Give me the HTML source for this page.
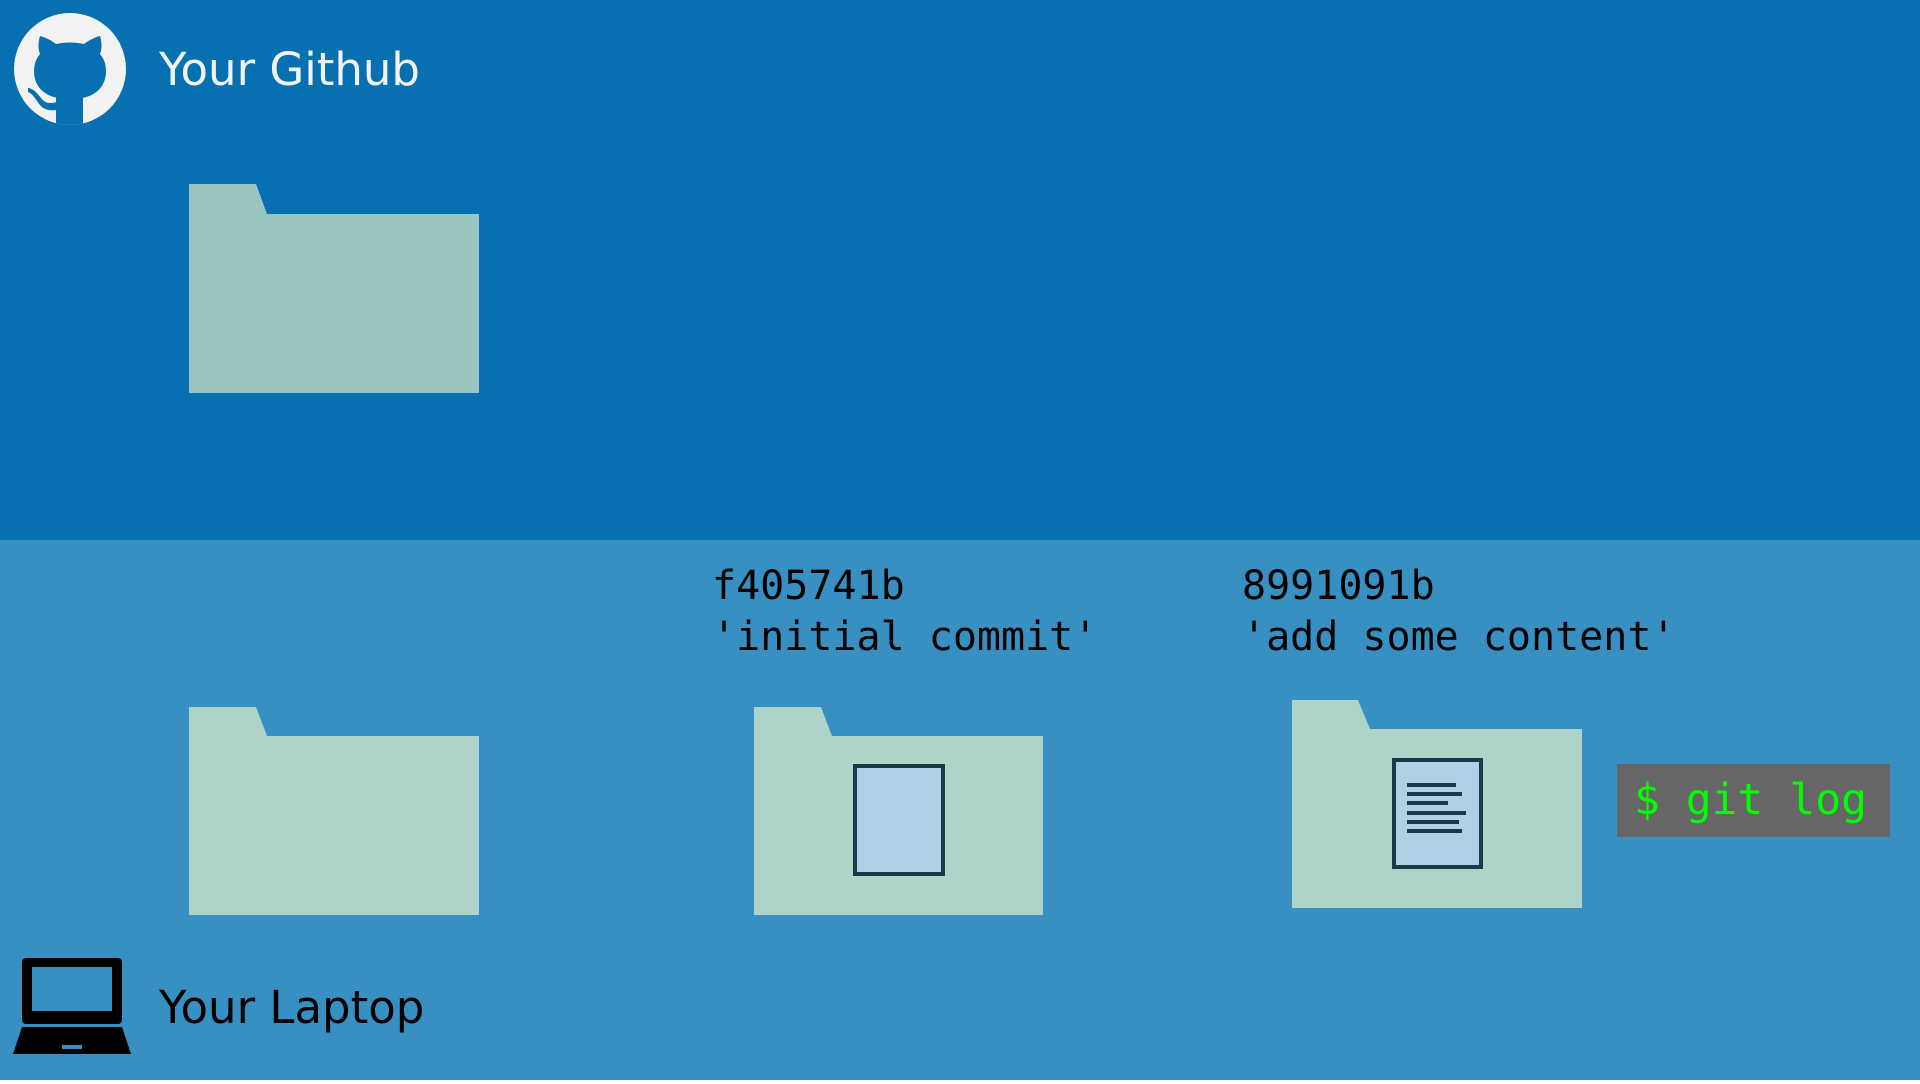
<!DOCTYPE html>
<html><head><meta charset="utf-8"><style>
body{margin:0;width:1920px;height:1080px;overflow:hidden;font-family:"DejaVu Sans","Liberation Sans",sans-serif}
</style></head><body>
<svg width="1920" height="1080" viewBox="0 0 1920 1080" xmlns="http://www.w3.org/2000/svg">
<defs><clipPath id="c"><circle cx="70" cy="69" r="56"/></clipPath></defs>
<rect x="0" y="0" width="1920" height="540" fill="#0670b0"/>
<rect x="0" y="540" width="1920" height="540" fill="#3790c1"/>
<!-- github icon -->
<circle cx="70" cy="69" r="56" fill="#f2f2f2"/>
<g clip-path="url(#c)" fill="#0670b0">
<path d="M40 36 C47 38 52 41 56 44 C65 42 75 42 84 44 C88 41 93 38 100 36 C102 43 102 49 100 54 C104 59 106 64 106 71 C106 88 94 96 82 98 L82 98 L58 98 C46 96 34 88 34 71 C34 64 36 59 40 54 C38 49 38 43 40 36Z"/>
<rect x="56" y="95" width="27" height="40"/>
<path d="M28 88 C36 89 39 97 44 101 C48 104 53 103 57 102 L57 110 C50 111 44 110 40 105 C36 100 33 94 28 92Z"/>
</g>
<text x="159" y="85" font-size="45" fill="#f2f2f2" font-family="DejaVu Sans, sans-serif">Your Github</text>
<!-- top folder -->
<path d="M189 184 L256 184 L267 214 L479 214 L479 393 L189 393Z" fill="#99c4c0"/>
<!-- bottom folders -->
<path d="M189 707 L256 707 L267 736 L479 736 L479 915 L189 915Z" fill="#aed3c8"/>
<path d="M754 707 L821 707 L832 736 L1043 736 L1043 915 L754 915Z" fill="#aed3c8"/>
<rect x="855" y="766" width="88" height="108" fill="#aed1e6" stroke="#1a3a4a" stroke-width="4"/>
<path d="M1292 700 L1358 700 L1370 729 L1582 729 L1582 908 L1292 908Z" fill="#aed3c8"/>
<rect x="1394" y="760" width="87" height="107" fill="#aed1e6" stroke="#1a3a4a" stroke-width="4"/>
<g stroke="#1a3a4a" stroke-width="4">
<line x1="1407" y1="785" x2="1456" y2="785"/>
<line x1="1407" y1="794" x2="1462" y2="794"/>
<line x1="1407" y1="803" x2="1448" y2="803"/>
<line x1="1407" y1="813" x2="1466" y2="813"/>
<line x1="1407" y1="822" x2="1459" y2="822"/>
<line x1="1407" y1="831" x2="1462" y2="831"/>
</g>
<!-- hashes -->
<g font-family="DejaVu Sans Mono, Liberation Mono, monospace" font-size="40" fill="#000">
<text x="712" y="599">f405741b</text>
<text x="712" y="650">'initial commit'</text>
<text x="1242" y="599">8991091b</text>
<text x="1242" y="650">'add some content'</text>
</g>
<!-- terminal -->
<rect x="1617" y="764" width="273" height="73" fill="#666666"/>
<text x="1634" y="814" font-family="DejaVu Sans Mono, Liberation Mono, monospace" font-size="43" fill="#00ff00">$ git log</text>
<!-- laptop -->
<rect x="22" y="958" width="100" height="66" rx="4" fill="#000"/>
<rect x="32" y="967" width="80" height="44" fill="#3790c1"/>
<path d="M22 1027 L122 1027 L131 1054 L13 1054Z" fill="#000"/>
<rect x="62" y="1045" width="20" height="4" fill="#3790c1"/>
<text x="159" y="1023" font-size="45" fill="#000" font-family="DejaVu Sans, sans-serif">Your Laptop</text>
</svg>
</body></html>
